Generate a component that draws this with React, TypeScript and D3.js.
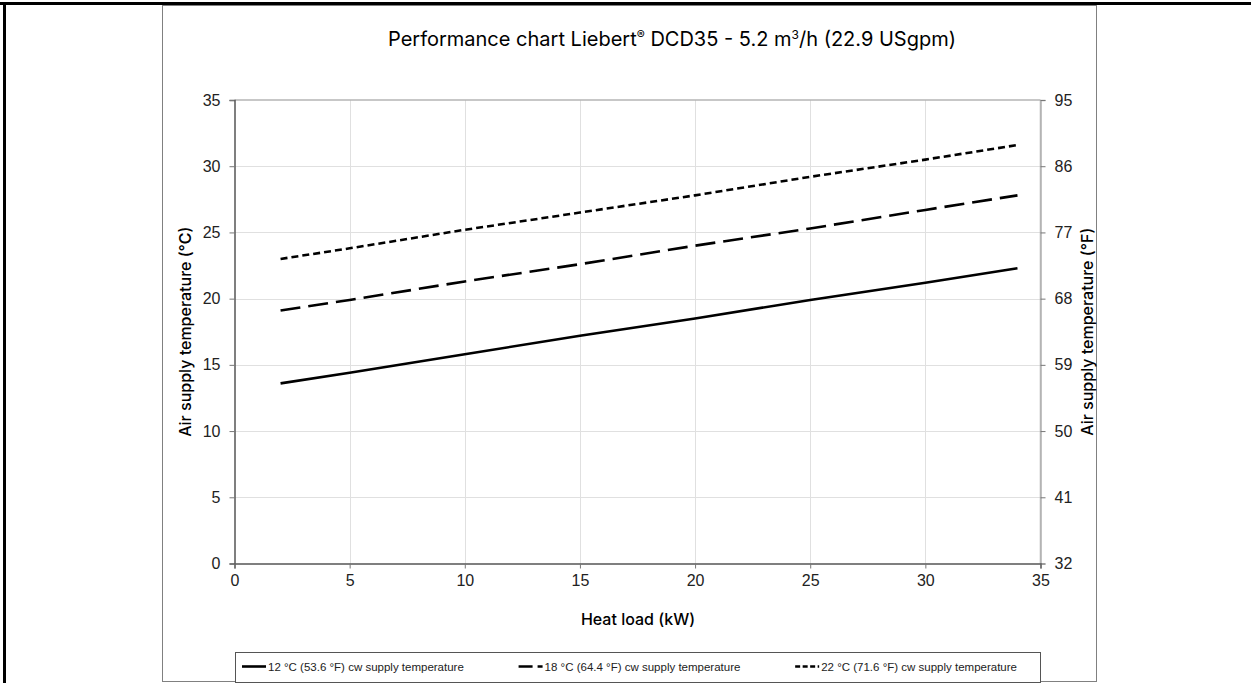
import * as d3 from "d3";
import React, { useEffect, useRef } from "react";

// heat load (kW) sample points
const heatLoad = [2, 5, 10, 15, 20, 25, 30, 34];

// air supply temperature (°C) per chilled water supply temperature
const cw12 = [13.6, 14.4, 15.8, 17.2, 18.5, 19.9, 21.2, 22.3];
const cw18 = [19.1, 19.9, 21.3, 22.6, 24.0, 25.3, 26.7, 27.8];
const cw22 = [23.0, 23.8, 25.2, 26.5, 27.8, 29.2, 30.5, 31.6];

const seriesNames = [
  "12 °C (53.6 °F) cw supply temperature",
  "18 °C (64.4 °F) cw supply temperature",
  "22 °C (71.6 °F) cw supply temperature",
];
const seriesDash = ["none", "20,8", "7,4"];

const xTicks = [0, 5, 10, 15, 20, 25, 30, 35];
const yTicksC = [0, 5, 10, 15, 20, 25, 30, 35];
const yTicksF = [32, 41, 50, 59, 68, 77, 86, 95];

const W = 1251,
  H = 683;
const TICK_FONT = "'Liberation Sans', Arial, sans-serif";
const TITLE_FONT = "Inter, 'Noto Sans', sans-serif";

const App: React.FC = () => {
  const ref = useRef<SVGSVGElement>(null);

  useEffect(() => {
    if (!ref.current) return;
    const svg = d3.select(ref.current);
    svg.selectAll("*").remove();

    const left = 234.5,
      right = 1040.5,
      top = 100,
      bottom = 563.5;

    const x = d3.scaleLinear().domain([0, 35]).range([left, right]);
    const y = d3.scaleLinear().domain([0, 35]).range([bottom, top]);
    const yF = d3.scaleLinear().domain([32, 95]).range([bottom, top]);

    svg.append("rect").attr("width", W).attr("height", H).attr("fill", "#fff");

    // outer page frame
    svg.append("line").attr("x1", 0).attr("x2", W).attr("y1", 3.5).attr("y2", 3.5)
      .attr("stroke", "#000").attr("stroke-width", 3);
    svg.append("line").attr("x1", 4.5).attr("x2", 4.5).attr("y1", 2).attr("y2", H)
      .attr("stroke", "#000").attr("stroke-width", 3);

    // chart area frame
    svg.append("rect").attr("x", 162.5).attr("y", 5.5).attr("width", 934).attr("height", 676)
      .attr("fill", "#fff").attr("stroke", "#808080");

    // gridlines
    const g = svg.append("g");
    g.selectAll("line.gx").data(xTicks.slice(1, -1)).join("line")
      .attr("x1", (d) => Math.round(x(d)) + 0.5).attr("x2", (d) => Math.round(x(d)) + 0.5)
      .attr("y1", top).attr("y2", bottom).attr("stroke", "#e0e0e0");
    g.selectAll("line.gy").data(yTicksC.slice(1, -1)).join("line")
      .attr("x1", left).attr("x2", right)
      .attr("y1", (d) => Math.round(y(d)) + 0.5).attr("y2", (d) => Math.round(y(d)) + 0.5)
      .attr("stroke", "#e0e0e0");

    // plot border (top/right light, left/bottom dark)
    svg.append("line").attr("x1", left).attr("x2", right).attr("y1", top).attr("y2", top)
      .attr("stroke", "#b4b4b4").attr("stroke-width", 1.5);
    svg.append("line").attr("x1", right).attr("x2", right).attr("y1", top).attr("y2", bottom)
      .attr("stroke", "#b4b4b4").attr("stroke-width", 1.5);

    // axes
    const axL = svg.append("g").attr("transform", `translate(${left},0)`)
      .call(d3.axisLeft(y).tickValues(yTicksC).tickSize(5).tickPadding(9));
    const axR = svg.append("g").attr("transform", `translate(${right},0)`)
      .call(d3.axisRight(yF).tickValues(yTicksF).tickSize(5).tickPadding(9));
    const axB = svg.append("g").attr("transform", `translate(0,${bottom})`)
      .call(d3.axisBottom(x).tickValues(xTicks).tickSize(5).tickPadding(6));
    [axL, axR, axB].forEach((ax) => {
      ax.selectAll("text").attr("font-family", TICK_FONT).attr("font-size", 16).attr("fill", "#222");
      ax.selectAll(".tick line").attr("stroke", "#777");
    });
    axL.select(".domain").attr("stroke", "#555").attr("stroke-width", 1.5);
    axB.select(".domain").attr("stroke", "#555").attr("stroke-width", 1.5);
    axR.select(".domain").attr("stroke", "#b4b4b4").attr("stroke-width", 1.5);

    // series
    const seriesVals = [cw12, cw18, cw22];
    const line = d3.line<number>().x((_, i) => x(heatLoad[i])).y((d) => y(d));
    svg.selectAll("path.series").data(seriesVals).join("path")
      .attr("class", "series")
      .attr("d", (d) => line(d))
      .attr("fill", "none")
      .attr("stroke", "#000")
      .attr("stroke-width", 2.6)
      .attr("stroke-dasharray", (_, i) => seriesDash[i]);

    // title
    const title = svg.append("text").attr("x", 672).attr("y", 46).attr("text-anchor", "middle")
      .attr("font-family", TITLE_FONT).attr("font-size", 20).attr("fill", "#000");
    title.append("tspan").text("Performance chart Liebert");
    title.append("tspan").attr("font-size", 12).attr("dy", -7).text("®");
    title.append("tspan").attr("dy", 7).text(" DCD35 - 5.2 m");
    title.append("tspan").attr("font-size", 12).attr("dy", -7).text("3");
    title.append("tspan").attr("dy", 7).text("/h (22.9 USgpm)");

    // axis titles
    const axisTitle = (t: d3.Selection<SVGTextElement, unknown, null, undefined>) =>
      t.attr("text-anchor", "middle").attr("font-family", TITLE_FONT).attr("font-size", 16)
        .attr("font-weight", 500).attr("fill", "#000");
    svg.append("text").attr("x", 638).attr("y", 625).call(axisTitle).text("Heat load (kW)");
    svg.append("text").attr("transform", `translate(191,${(top + bottom) / 2}) rotate(-90)`)
      .call(axisTitle).text("Air supply temperature (°C)");
    svg.append("text").attr("transform", `translate(1093,${(top + bottom) / 2}) rotate(-90)`)
      .call(axisTitle).text("Air supply temperature (°F)");

    // legend
    svg.append("rect").attr("x", 235.5).attr("y", 652.5).attr("width", 805).attr("height", 30)
      .attr("fill", "#fff").attr("stroke", "#555");
    const lg = svg.append("g");
    const items = seriesNames.map((name, i) => {
      const t = lg.append("text").attr("y", 670.5).attr("font-family", TICK_FONT)
        .attr("font-size", 11.5).attr("fill", "#222").text(name);
      return { t, w: (t.node() as SVGTextElement).getComputedTextLength(), i };
    });
    const sample = 24;
    const span = 1017 - 242;
    const used = d3.sum(items, (d) => d.w + sample + 2);
    const gap = (span - used) / 2;
    let cx = 242;
    items.forEach(({ t, w, i }) => {
      lg.append("line").attr("x1", cx).attr("x2", cx + sample).attr("y1", 666.5).attr("y2", 666.5)
        .attr("stroke", "#000").attr("stroke-width", 2.6)
        .attr("stroke-dasharray", i === 1 ? "14,5" : i === 2 ? "5,2.5" : seriesDash[i]);
      t.attr("x", cx + sample + 2);
      cx += sample + 2 + w + gap;
    });
  }, []);

  return (
    <svg
      ref={ref}
      width={W}
      height={H}
      style={{ position: "absolute", left: 0, top: 0, display: "block" }}
    />
  );
};

export default App;
